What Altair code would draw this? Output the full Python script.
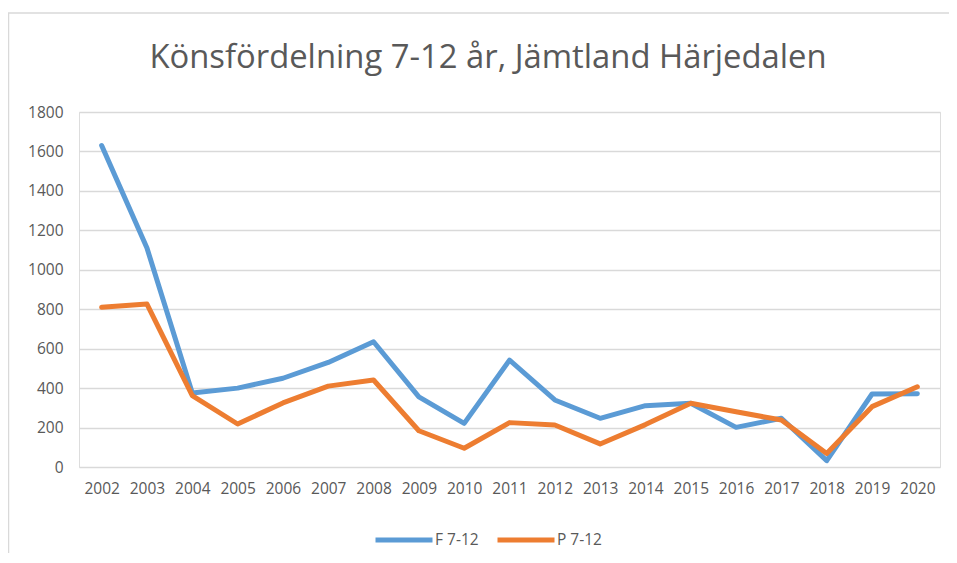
import altair as alt
import pandas as pd

years = [str(y) for y in range(2002, 2021)]
f_vals = [1630, 1110, 375, 400, 450, 530, 635, 356, 221, 542, 340, 247, 311, 323, 201, 247, 32, 370, 372]
p_vals = [810, 826, 362, 218, 325, 410, 441, 184, 95, 225, 213, 117, 215, 323, 280, 238, 69, 306, 407]
series_names = ["F 7-12", "P 7-12"]
series_colors = ["#5B9BD5", "#ED7D31"]
y_ticks = list(range(0, 2000, 200))
title_text = "Könsfördelning 7-12 år, Jämtland Härjedalen"

rows = []
for name, vals in zip(series_names, [f_vals, p_vals]):
    for yr, v in zip(years, vals):
        rows.append({"year": yr, "value": v, "series": name})
df = pd.DataFrame(rows)

font = "Open Sans"
txt = "#595959"
grid = "#D9D9D9"

lines = alt.Chart(df).mark_line(strokeWidth=5, strokeCap="round", strokeJoin="round").encode(
    x=alt.X("year:O", sort=years, title=None,
            axis=alt.Axis(labelAngle=0, ticks=False, domain=False, labelFont=font,
                          labelFontSize=15.5, labelColor=txt, labelPadding=14)),
    y=alt.Y("value:Q", title=None, scale=alt.Scale(domain=[0, 1800], nice=False),
            axis=alt.Axis(values=y_ticks, format="d", ticks=False, domain=False, grid=True,
                          gridColor=grid, gridWidth=1.5, labelFont=font,
                          labelFontSize=15.5, labelColor=txt, labelPadding=16)),
    color=alt.Color("series:N", scale=alt.Scale(domain=series_names, range=series_colors),
                    legend=alt.Legend(title=None, orient="none", direction="horizontal",
                                      legendX=294, legendY=397, symbolType="stroke",
                                      symbolSize=3249, symbolStrokeWidth=5,
                                      labelFont=font, labelFontSize=15.5, labelColor=txt,
                                      labelOffset=0, columnPadding=8)),
)

border = alt.Chart(pd.DataFrame({"a": [0]})).mark_rect(
    fill=None, stroke=grid, strokeWidth=1.5
).encode(x=alt.value(-70.5), y=alt.value(-99), x2=alt.value(1000), y2=alt.value(600))

title = alt.Chart(pd.DataFrame({"t": [title_text]})).mark_text(
    font=font, fontSize=32.8, color=txt, align="center", baseline="middle"
).encode(text="t:N", x=alt.value(409), y=alt.value(-54))

chart = alt.layer(border, title, lines).properties(
    width=861, height=355,
    autosize=alt.AutoSizeParams(type="none"),
    padding={"left": 71, "top": 104, "right": 9, "bottom": 86},
).configure_view(stroke=None).configure(background="white")

chart.save("out.html", embed_options={"renderer": "svg", "actions": False})
